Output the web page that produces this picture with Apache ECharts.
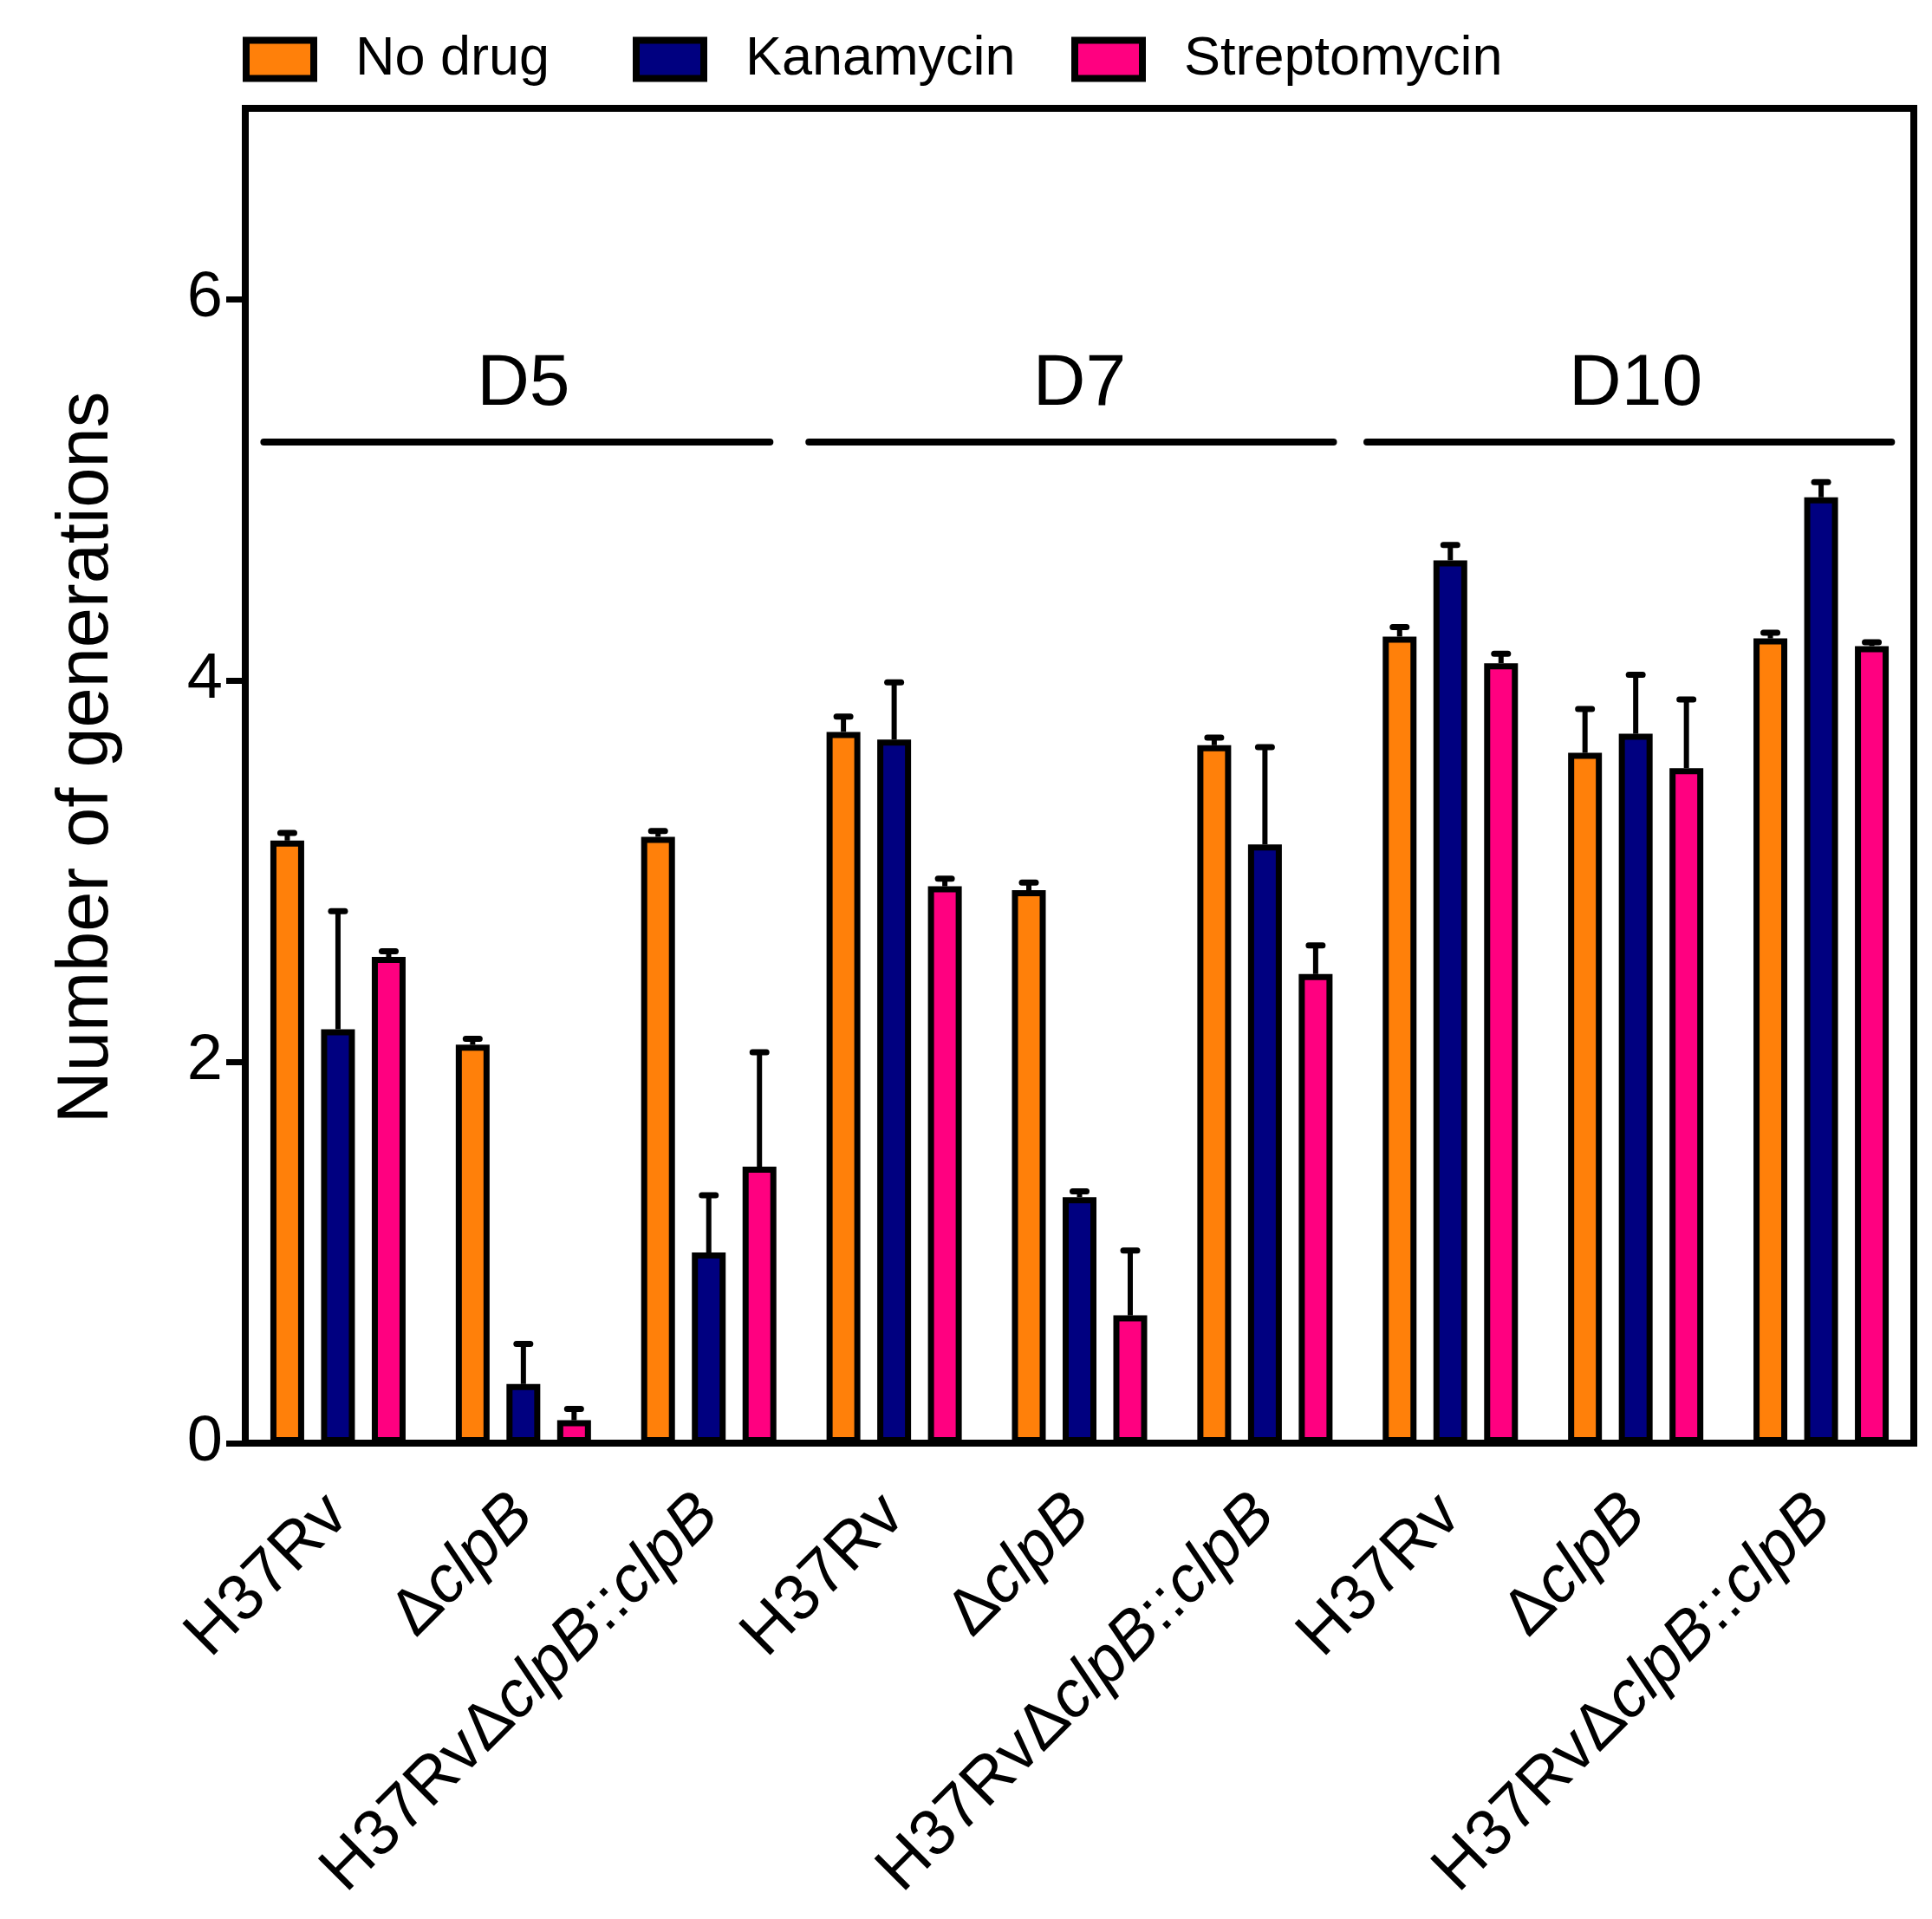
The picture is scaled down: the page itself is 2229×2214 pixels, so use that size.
<!DOCTYPE html>
<html>
<head>
<meta charset="utf-8">
<title>Number of generations</title>
<script src="https://cdn.jsdelivr.net/npm/echarts@6/dist/echarts.min.js"></script>
<style>
  html, body { margin: 0; padding: 0; background: #fff; }
  #chart { width: 2229px; height: 2214px; }
</style>
</head>
<body>
<div id="chart"></div>
<script>
// days and strains (x categories = day x strain)
const days = ['D5', 'D7', 'D10'];
const strains = ['H37Rv', 'ΔclpB', 'H37RvΔclpB::clpB'];
const categories = [];
days.forEach(d => strains.forEach(s => categories.push(d + '|' + s)));

const seriesNames = ['No drug', 'Kanamycin', 'Streptomycin'];
const seriesColors = ['#FF800A', '#000080', '#FF0080'];

// means
const noDrug = [3.16, 2.09, 3.18, 3.73, 2.90, 3.66, 4.23, 3.62, 4.22];
const kanamycin = [2.17, 0.31, 1.00, 3.69, 1.29, 3.14, 4.63, 3.72, 4.96];
const streptomycin = [2.55, 0.12, 1.45, 2.92, 0.67, 2.46, 4.09, 3.54, 4.18];
// upper error (SD)
const noDrugErr = [0.04, 0.03, 0.03, 0.08, 0.04, 0.04, 0.05, 0.23, 0.03];
const kanamycinErr = [0.62, 0.21, 0.30, 0.30, 0.03, 0.51, 0.08, 0.31, 0.08];
const streptomycinErr = [0.03, 0.06, 0.60, 0.04, 0.34, 0.15, 0.05, 0.36, 0.02];

const yTicks = [0, 2, 4, 6];

// day brackets, in category units along the axis (0..9)
const bracketStart = [0.10, 3.04, 6.05];
const bracketEnd = [2.83, 5.87, 8.88];
const bracketLevel = 5.25;
const dayLabelPos = [1.5, 4.5, 7.5];

const FONT = "'Liberation Sans', Arial, Helvetica, sans-serif";
const BAR_W = 39;
const BAR_GAP = 0.5;

const strainRich = {
  'H37Rv': '{r|H37Rv}',
  'ΔclpB': '{r|Δ}{i|clpB}',
  'H37RvΔclpB::clpB': '{r|H37RvΔ}{i|clpB}{r|::}{i|clpB}'
};

const means = [noDrug, kanamycin, streptomycin];
const errs = [noDrugErr, kanamycinErr, streptomycinErr];

const barSeries = seriesNames.map((name, k) => ({
  type: 'bar',
  name: name,
  data: means[k],
  barWidth: BAR_W,
  barGap: (BAR_GAP * 100) + '%',
  itemStyle: { color: seriesColors[k], borderColor: '#000', borderWidth: 7 },
  z: 2
}));

// error bars drawn on top of each bar
const errSeries = seriesNames.map((name, k) => ({
  type: 'custom',
  name: name + ' err',
  z: 3,
  data: means[k].map((m, i) => [i, m, m + errs[k][i]]),
  renderItem: (params, api) => {
    const lo = api.coord([api.value(0), api.value(1)]);
    const hi = api.coord([api.value(0), api.value(2)]);
    const x = lo[0] + (k - 1) * BAR_W * (1 + BAR_GAP);
    return {
      type: 'group',
      children: [
        { type: 'line', shape: { x1: x, y1: lo[1], x2: x, y2: hi[1] },
          style: { stroke: '#000', lineWidth: 6 } },
        { type: 'line', shape: { x1: x - 8, y1: hi[1], x2: x + 8, y2: hi[1] },
          style: { stroke: '#000', lineWidth: 7, lineCap: 'round' } }
      ]
    };
  }
}));

const bracketSeries = days.map((d, i) => ({
  type: 'line',
  name: d + ' bracket',
  xAxisIndex: 1,
  data: [[bracketStart[i], bracketLevel], [bracketEnd[i], bracketLevel]],
  symbol: 'none',
  silent: true,
  lineStyle: { color: '#000', width: 8, cap: 'round' },
  z: 1
}));

const dayLabelSeries = {
  type: 'scatter',
  name: 'days',
  xAxisIndex: 1,
  symbolSize: 0,
  silent: true,
  itemStyle: { opacity: 1 },
  data: days.map((d, i) => ({ value: [dayLabelPos[i], bracketLevel], name: d })),
  label: {
    show: true,
    position: 'top',
    distance: 24,
    formatter: p => p.name,
    fontSize: 84,
    fontFamily: FONT,
    color: '#000',
    opacity: 1
  }
};

const legendLeft = [280, 730, 1236];

const chart = echarts.init(document.getElementById('chart'));
chart.setOption({
  backgroundColor: '#fff',
  animation: false,
  legend: seriesNames.map((n, i) => ({
    data: [n],
    left: legendLeft[i],
    top: 37,
    padding: 0,
    icon: 'rect',
    itemWidth: 78,
    itemHeight: 44,
    selectedMode: false,
    itemStyle: { borderColor: '#000', borderWidth: 8 },
    textStyle: { fontSize: 63, fontFamily: FONT, color: '#000', lineHeight: 63, padding: [0, 0, 0, 43] }
  })),
  grid: {
    left: 283, right: 21, top: 125, bottom: 549,
    show: true, borderColor: '#000', borderWidth: 8
  },
  xAxis: [{
    type: 'category',
    data: categories,
    axisLine: { lineStyle: { color: '#000', width: 8 } },
    axisTick: { alignWithLabel: true, length: 24, lineStyle: { color: '#000', width: 7 } },
    axisLabel: {
      interval: 0,
      rotate: 45,
      margin: 72,
      formatter: v => strainRich[v.split('|')[1]],
      rich: {
        r: { fontSize: 75, fontFamily: FONT, color: '#000' },
        i: { fontSize: 75, fontFamily: FONT, color: '#000', fontStyle: 'italic' }
      }
    }
  }, {
    type: 'value',
    min: 0,
    max: categories.length,
    show: false
  }],
  yAxis: {
    type: 'value',
    min: 0,
    max: 7,
    name: 'Number of generations',
    nameLocation: 'middle',
    nameGap: 140,
    nameTextStyle: { fontSize: 83, fontFamily: FONT, color: '#000', padding: [0, 0, 0, 42] },
    splitLine: { show: false },
    axisLine: { show: true, lineStyle: { color: '#000', width: 8 } },
    axisTick: { show: true, length: 22, customValues: yTicks, lineStyle: { color: '#000', width: 7 } },
    axisLabel: { customValues: yTicks, margin: 26, fontSize: 74, fontFamily: FONT, color: '#000' }
  },
  series: [...barSeries, ...errSeries, ...bracketSeries, dayLabelSeries]
});
</script>
</body>
</html>
